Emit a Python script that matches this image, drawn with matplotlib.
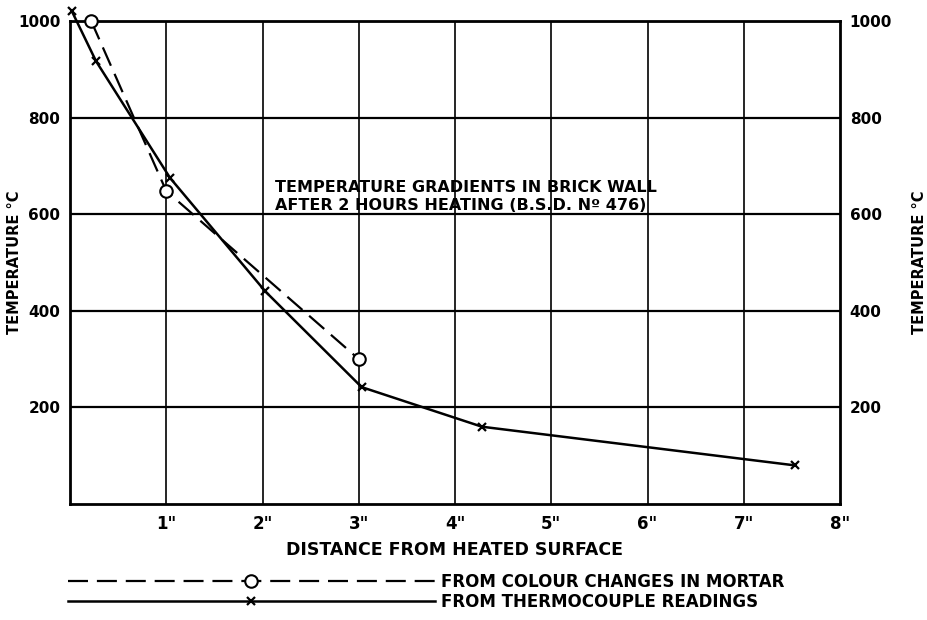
import matplotlib
matplotlib.use("Agg")
import matplotlib.pyplot as plt
from matplotlib.lines import Line2D

# Data
colour_x = [0.22, 1.0, 3.0]
colour_t = [1000, 648, 300]
thermo_x = [0.02, 0.27, 1.04, 2.03, 3.03, 4.28, 7.53]
thermo_t = [1020, 917, 675, 440, 242, 160, 80]
yticks = [200, 400, 600, 800, 1000]
xticks = [1, 2, 3, 4, 5, 6, 7, 8]
xticklabels = ['1"', '2"', '3"', '4"', '5"', '6"', '7"', '8"']

plt.rcParams['font.family'] = ['DejaVu Sans']
plt.rcParams['font.weight'] = 'bold'

DASH = (0, (9, 4))

fig = plt.figure(figsize=(9.27, 6.2), dpi=100)
ax = fig.add_axes([70/927, 1-504/620, 770/927, 483/620])
ax.set_xlim(0, 8)
ax.set_ylim(0, 1000)

for v in yticks:
    ax.axhline(v, color='black', lw=1.6, zorder=1)
for v in xticks[:-1]:
    ax.axvline(v, color='black', lw=1.2, zorder=1)

ax.plot(colour_x, colour_t, color='black', lw=1.6, ls=DASH,
        marker='o', ms=9, mfc='white', mec='black', mew=1.5, zorder=3,
        clip_on=False)
ax.plot(thermo_x, thermo_t, color='black', lw=1.8, marker='x', ms=6,
        mew=1.6, zorder=3, clip_on=False)

for s in ax.spines.values():
    s.set_linewidth(2)

ax.set_yticks(yticks)
ax.set_yticklabels([str(v) for v in yticks], fontsize=11, fontweight='bold')
ax.tick_params(axis='y', length=0, pad=7, labelright=True, right=False)
ax.set_xticks(xticks)
ax.set_xticklabels(xticklabels, fontsize=12, fontweight='bold')
ax.tick_params(axis='x', length=0, pad=8)

ax.set_ylabel('TEMPERATURE °C', fontsize=10.5, fontweight='bold')
ax.yaxis.set_label_coords(-0.062, 0.5)
ax2 = ax.secondary_yaxis('right')
ax2.set_yticks([])
ax2.spines['right'].set_visible(False)
ax2.set_ylabel('TEMPERATURE °C', fontsize=10.5, fontweight='bold', labelpad=52)

ax.set_xlabel('DISTANCE FROM HEATED SURFACE', fontsize=12.5, fontweight='bold',
              labelpad=6)

ax.text(2.13, 608, 'TEMPERATURE GRADIENTS IN BRICK WALL\nAFTER 2 HOURS HEATING (B.S.D. Nº 476)',
        fontsize=11.5, fontweight='bold', linespacing=1.3, zorder=4)

handles = [
    Line2D([], [], color='black', lw=1.6, ls=DASH, marker='o', ms=9,
           mfc='white', mec='black', mew=1.5),
    Line2D([], [], color='black', lw=1.8, marker='x', ms=6, mew=1.6),
]
labels = ['FROM COLOUR CHANGES IN MORTAR', 'FROM THERMOCOUPLE READINGS']
fig.legend(handles, labels, loc='upper left', bbox_to_anchor=(68/927, 1-573/620),
           frameon=False, handlelength=22, handletextpad=0.4, numpoints=1,
           borderpad=0, borderaxespad=0, labelspacing=0.1,
           prop=dict(size=12, weight='bold'))

fig.savefig('out.png', dpi=100)
